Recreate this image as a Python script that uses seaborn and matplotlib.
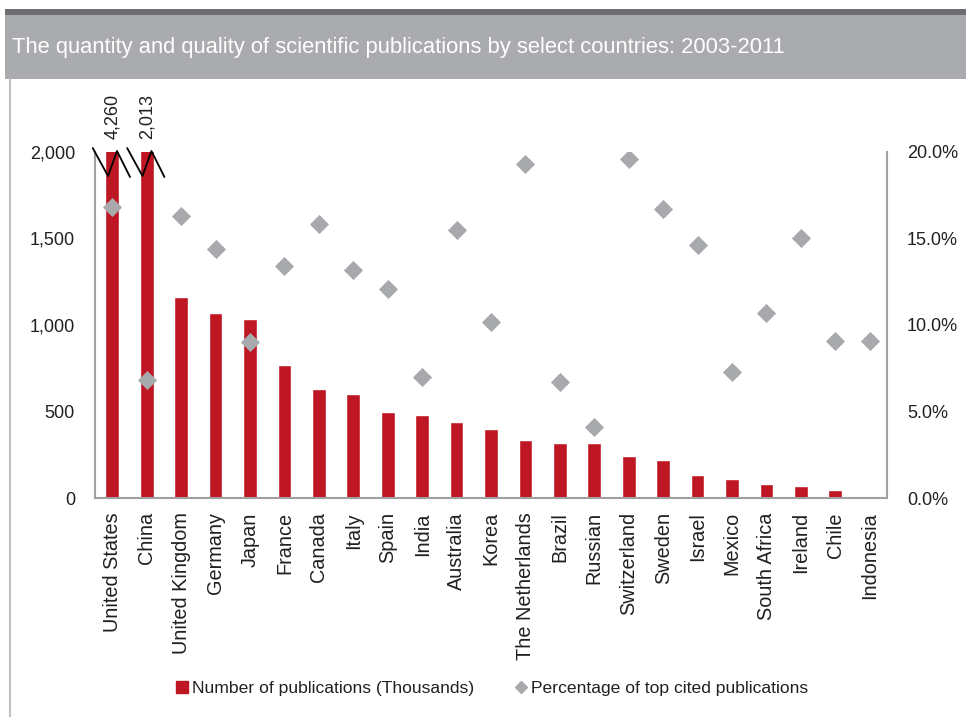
import numpy as np
import pandas as pd
import matplotlib
matplotlib.use("Agg")
import matplotlib.pyplot as plt
import seaborn as sns
from matplotlib import font_manager
from matplotlib.patches import Rectangle
from matplotlib.lines import Line2D

countries = ["United States", "China", "United Kingdom", "Germany", "Japan", "France",
             "Canada", "Italy", "Spain", "India", "Australia", "Korea", "The Netherlands",
             "Brazil", "Russian", "Switzerland", "Sweden", "Israel", "Mexico",
             "South Africa", "Ireland", "Chile", "Indonesia"]
publications = [4260, 2013, 1163, 1069, 1035, 767, 631, 600, 496, 481, 438, 400, 336,
                321, 317, 246, 219, 134, 110, 81, 71, 48, 12]
top_cited_pct = [16.8, 6.8, 16.3, 14.4, 9.0, 13.4, 15.8, 13.2, 12.1, 7.0, 15.5, 10.2,
                 19.3, 6.7, 4.1, 19.6, 16.7, 14.6, 7.3, 10.7, 15.0, 9.1, 9.1]
break_labels = ["4,260", "2,013"]
left_ticks = [0, 500, 1000, 1500, 2000]
right_ticks = [0, 5, 10, 15, 20]

names = {f.name for f in font_manager.fontManager.ttflist}
FONT = ["Liberation Sans Narrow", "DejaVu Sans"] if "Liberation Sans Narrow" in names else ["Liberation Sans", "DejaVu Sans"]

RED = "#be1622"
GRAY = "#a7a9ac"
TXT = "#231f20"
SPINE = "#a0a0a0"

sns.set_theme(style="white")
plt.rcParams["font.family"] = FONT

df = pd.DataFrame({"country": countries, "pubs": publications, "pct": top_cited_pct})

fig = plt.figure(figsize=(9.66, 7.17), dpi=100)
ax = fig.add_axes([95/966, 218.7/717, 792/966, 346.6/717])

sns.barplot(data=df, x="country", y="pubs", color=RED, width=0.4, saturation=1,
            ax=ax, zorder=2)
ax.set_xlim(-0.5, len(countries) - 0.5)
ax.set_ylim(0, 2000)
ax.set_yticks(left_ticks)
ax.set_yticklabels([f"{v:,}" for v in left_ticks])
ax.set_xlabel("")
ax.set_ylabel("")
ax.tick_params(axis="y", length=0, pad=14.4, labelsize=13, labelcolor=TXT)
ax.tick_params(axis="x", length=0, pad=10, labelsize=14.3, labelcolor=TXT, rotation=90)
for s in ["top", "right"]:
    ax.spines[s].set_visible(False)
for s in ["left", "bottom"]:
    ax.spines[s].set_color(SPINE)
    ax.spines[s].set_linewidth(1.5)

ax2 = ax.twinx()
sns.scatterplot(x=np.arange(len(countries)), y=df["pct"], marker="D", s=95,
                color=GRAY, linewidth=0, ax=ax2, zorder=3)
ax2.set_ylim(0, 20)
ax2.set_yticks(right_ticks)
ax2.set_yticklabels([f"{v:.1f}%" for v in right_ticks])
ax2.set_ylabel("")
ax2.tick_params(axis="y", length=0, pad=14.4, labelsize=13, labelcolor=TXT)
for s in ["top", "left", "bottom"]:
    ax2.spines[s].set_visible(False)
ax2.spines["right"].set_color(SPINE)
ax2.spines["right"].set_linewidth(1.5)

# axis break marks and true values for the clipped bars
for i, lab in enumerate(break_labels):
    xs = [i - 0.566, i - 0.122, i + 0.139, i + 0.517]
    ys = [2021, 1860, 2004, 1854]
    ax.plot(xs, ys, color="black", lw=1.3, clip_on=False, zorder=5)
    ax.annotate(lab, xy=(i, 2000), xytext=(0, 9), textcoords="offset points",
                rotation=90, ha="center", va="bottom", fontsize=13, color=TXT,
                annotation_clip=False)

# title band
fig.patches.append(Rectangle((5/966, 1 - 15/717), 961/966, 6/717, transform=fig.transFigure,
                             facecolor="#6d6e71", edgecolor="none", zorder=0))
fig.patches.append(Rectangle((5/966, 1 - 79/717), 961/966, 64/717, transform=fig.transFigure,
                             facecolor="#a9abae", edgecolor="none", zorder=0))
fig.lines.append(Line2D([9.5/966, 9.5/966], [0, 1 - 79/717], transform=fig.transFigure,
                        color="#c0c0c0", lw=1.5))
fig.text(12/966, 1 - 47/717, "The quantity and quality of scientific publications by select countries: 2003-2011",
         color="white", fontsize=15.85, va="center", ha="left")

handles = [Line2D([], [], marker="s", color=RED, linestyle="none", markersize=8),
           Line2D([], [], marker="D", color=GRAY, linestyle="none", markersize=6)]
fig.legend(handles, ["Number of publications (Thousands)", "Percentage of top cited publications"],
           loc="center", bbox_to_anchor=(491/966, 1 - 688/717), ncol=2, frameon=False,
           fontsize=12.6, handletextpad=0.15, columnspacing=2.2, handlelength=0.9,
           labelcolor=TXT)

fig.savefig("out.png", dpi=100)
